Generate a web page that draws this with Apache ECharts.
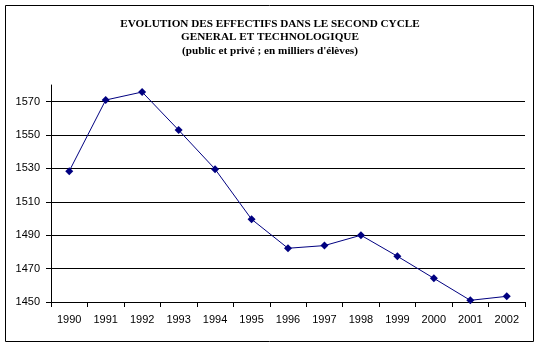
<!DOCTYPE html>
<html>
<head>
<meta charset="utf-8">
<script src="https://cdn.jsdelivr.net/npm/echarts@6/dist/echarts.min.js"></script>
<style>
  html, body { margin: 0; padding: 0; background: #fff; }
  #chart { width: 540px; height: 347px; }
</style>
</head>
<body>
<div id="chart"></div>
<script>
// School years (x axis)
const years = ['1990', '1991', '1992', '1993', '1994', '1995', '1996',
               '1997', '1998', '1999', '2000', '2001', '2002'];
// Enrolment, thousands of pupils
const effectifs = [1528.4, 1571.0, 1575.8, 1553.0, 1529.6, 1499.6, 1482.2,
                   1483.8, 1490.0, 1477.4, 1464.2, 1451.0, 1453.4];
// Value axis ticks
const yTicks = [1450, 1470, 1490, 1510, 1530, 1550, 1570];
const titleLines = [
  'EVOLUTION DES EFFECTIFS DANS LE SECOND CYCLE',
  'GENERAL ET TECHNOLOGIQUE',
  "(public et privé ; en milliers d'élèves)"
];

const chart = echarts.init(document.getElementById('chart'), null, { renderer: 'canvas' });

chart.setOption({
  animation: false,
  backgroundColor: '#ffffff',
  title: {
    text: titleLines.join('\n'),
    left: 'center',
    top: 12,
    textStyle: {
      fontFamily: '"Liberation Serif", "Times New Roman", serif',
      fontWeight: 'bold',
      fontSize: 11.2,
      lineHeight: 13.5,
      color: '#000'
    }
  },
  graphic: [{
    type: 'rect',
    shape: { x: 5.5, y: 5.5, width: 528, height: 336 },
    style: { fill: 'none', stroke: '#000', lineWidth: 1 },
    silent: true,
    z: -1
  }],
  grid: { left: 51, right: 15, top: 85, bottom: 45, containLabel: false },
  xAxis: {
    type: 'category',
    data: years,
    boundaryGap: true,
    axisLine: { lineStyle: { color: '#000', width: 1 } },
    axisTick: { show: true, length: 5, inside: false, lineStyle: { color: '#000' } },
    axisLabel: {
      margin: 12,
      fontFamily: '"Liberation Sans", Arial, sans-serif',
      fontSize: 11,
      color: '#000'
    },
    splitLine: { show: false }
  },
  yAxis: {
    type: 'value',
    min: 1450,
    max: 1580,
    interval: 20,
    axisLine: { show: true, lineStyle: { color: '#000', width: 1 } },
    axisTick: { show: true, length: 5, customValues: yTicks, lineStyle: { color: '#000' } },
    axisLabel: {
      customValues: yTicks,
      formatter: v => String(v),
      margin: 11,
      fontFamily: '"Liberation Sans", Arial, sans-serif',
      fontSize: 11,
      color: '#000'
    },
    splitLine: { show: true, lineStyle: { color: '#000', width: 1 } }
  },
  series: [{
    type: 'line',
    data: effectifs,
    symbol: 'diamond',
    symbolSize: 8,
    showSymbol: true,
    lineStyle: { color: '#000080', width: 1 },
    itemStyle: { color: '#000080' }
  }]
});
</script>
</body>
</html>
